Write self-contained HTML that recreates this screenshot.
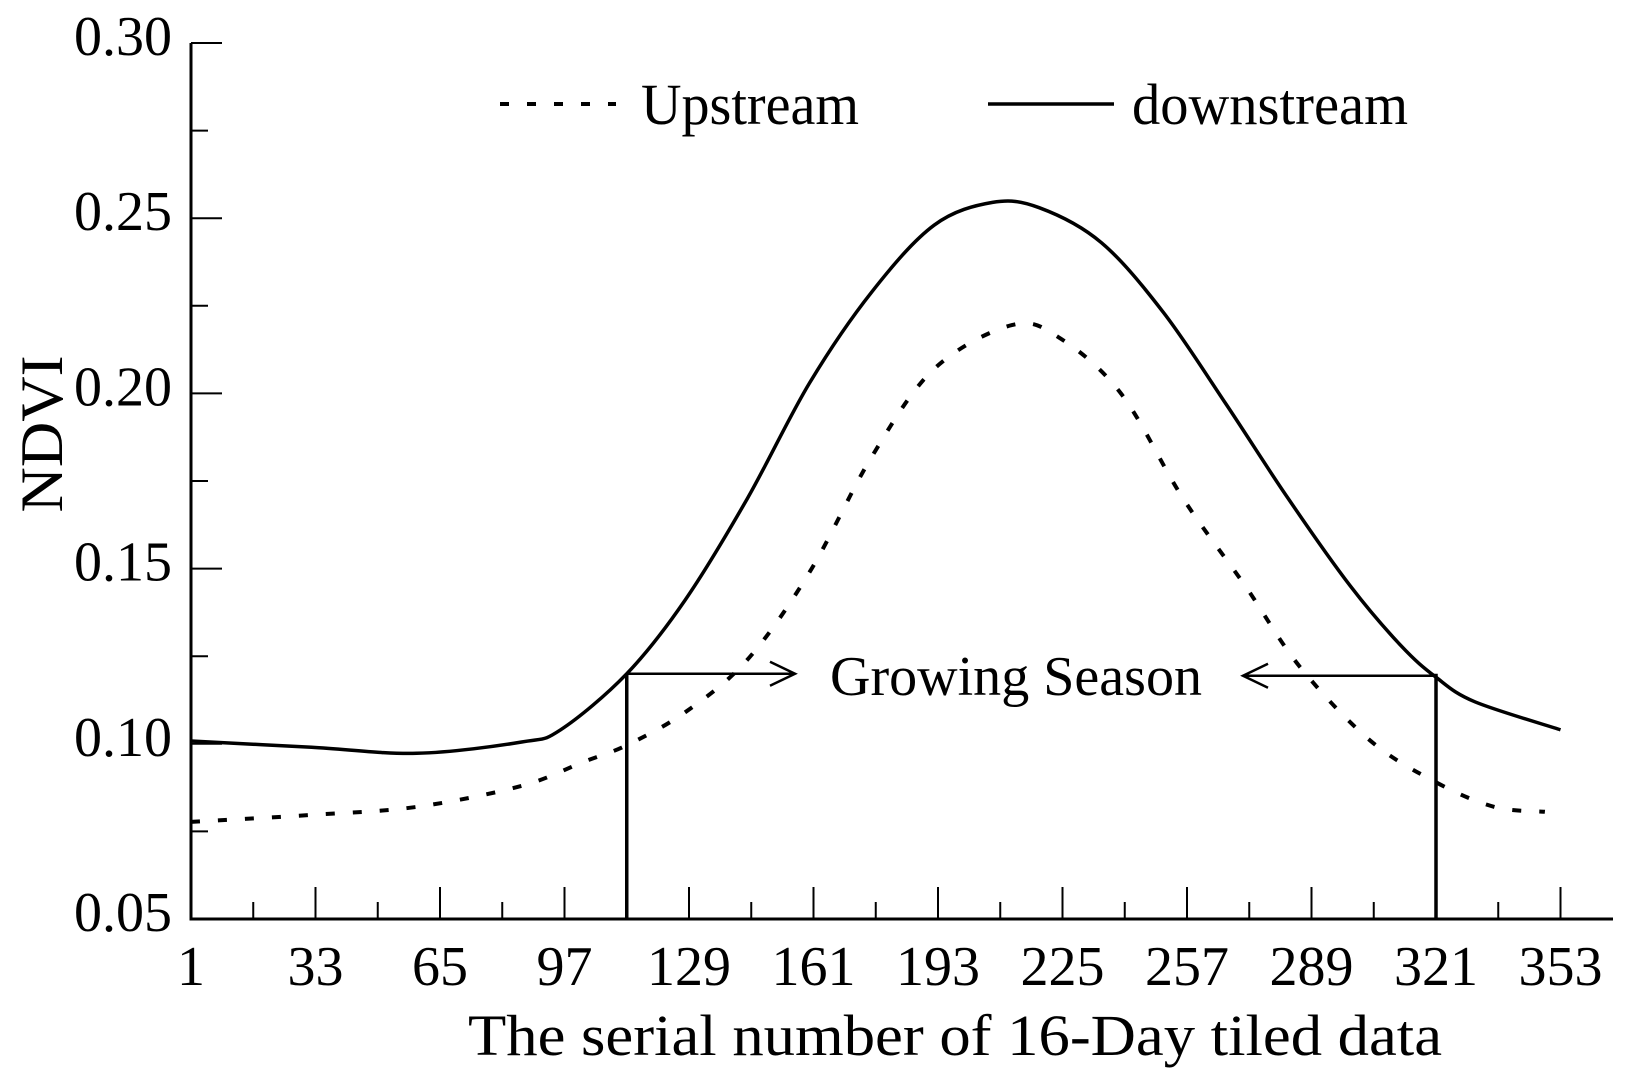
<!DOCTYPE html>
<html><head><meta charset="utf-8"><style>
html,body{margin:0;padding:0;background:#fff;}
svg{display:block;font-family:"Liberation Serif",serif;}
</style></head><body>
<svg id="chart" width="1630" height="1077" viewBox="0 0 1630 1077">
<g id="axes"></g>
<g id="series"></g>
<g>
  <line x1="500" y1="104" x2="616" y2="104" stroke="#000" stroke-width="4" stroke-dasharray="9 18"/>
  <text x="641" y="124" font-size="58" textLength="218" lengthAdjust="spacingAndGlyphs">Upstream</text>
  <line x1="988" y1="104" x2="1114" y2="104" stroke="#000" stroke-width="3.5"/>
  <text x="1132" y="124" font-size="58" textLength="276" lengthAdjust="spacingAndGlyphs">downstream</text>
</g>
<text transform="translate(62,434) rotate(-90)" text-anchor="middle" font-size="60" textLength="157" lengthAdjust="spacingAndGlyphs">NDVI</text>
<text x="468" y="1055" font-size="58" textLength="974" lengthAdjust="spacingAndGlyphs">The serial number of 16-Day tiled data</text>
</svg>
<script>
const xTicks = [1,33,65,97,129,161,193,225,257,289,321,353];
const yTicks = [0.05,0.10,0.15,0.20,0.25,0.30];
const downX = [1,32,59,86,96,113,128,144,160,176,192,207,219,235,251,267,283,299,312,321,331,353];
const downY = [0.1008,0.099,0.0973,0.1005,0.104,0.120,0.141,0.170,0.203,0.229,0.248,0.2545,0.253,0.243,0.223,0.197,0.170,0.145,0.128,0.119,0.112,0.104];
const upX = [1,32,59,86,102,113,128,144,160,176,192,212,224,240,256,272,286,304,321,336,349];
const upY = [0.0777,0.0797,0.082,0.088,0.0949,0.0996,0.109,0.124,0.149,0.182,0.207,0.2195,0.216,0.200,0.170,0.145,0.122,0.101,0.089,0.082,0.0806];
const seasonStart = 113, seasonEnd = 321, seasonLevel = 0.12;

const NS = "http://www.w3.org/2000/svg";
const X0 = 191, XS = 124.5/32, Y0 = 919, YS = 3504;
function sx(v){ return X0 + (v-1)*XS; }
function sy(v){ return Y0 - (v-0.05)*YS; }
function mk(tag, attrs, parent){
  const e = document.createElementNS(NS, tag);
  for (const k in attrs) e.setAttribute(k, attrs[k]);
  parent.appendChild(e); return e;
}
const axes = document.getElementById('axes');
const series = document.getElementById('series');
const svg = document.getElementById('chart');

const ya = mk('line',{x1:X0,y1:Y0+1.5,x2:X0,y2:sy(0.30),stroke:'#000','stroke-width':3},axes);


const xa = mk('line',{x1:X0-1.5,y1:Y0,x2:1613,y2:Y0,stroke:'#000','stroke-width':3},axes);



for (let i=0; i<=10; i++){
  const v = 0.05 + i*0.025;
  const major = i%2===0;
  const t = mk('line',{x1:X0,y1:sy(v),x2:X0+(major?31:17),y2:sy(v),stroke:'#000','stroke-width':2},axes);
  
  
}
yTicks.forEach(v=>{
  const t = mk('text',{x:172,y:sy(v)+12,'text-anchor':'end','font-size':56},axes);
  t.textContent = v.toFixed(2);
  
  
});
for (let v=17; v<=353; v+=16){
  const major = ((v-1)/16)%2===0;
  const t = mk('line',{x1:sx(v),y1:Y0,x2:sx(v),y2:Y0-(major?32:17),stroke:'#000','stroke-width':2},axes);
  
  
}
xTicks.forEach(v=>{
  const t = mk('text',{x:sx(v),y:985,'text-anchor':'middle','font-size':56},axes);
  t.textContent = v;
  
  
});

function path(xs, ys){
  const p = xs.map((x,i)=>[sx(x), sy(ys[i])]);
  let d = 'M'+p[0][0].toFixed(1)+','+p[0][1].toFixed(1);
  for (let i=0;i<p.length-1;i++){
    const p0=p[Math.max(0,i-1)], p1=p[i], p2=p[i+1], p3=p[Math.min(p.length-1,i+2)];
    const c1=[p1[0]+(p2[0]-p0[0])/6, p1[1]+(p2[1]-p0[1])/6];
    const c2=[p2[0]-(p3[0]-p1[0])/6, p2[1]-(p3[1]-p1[1])/6];
    d += ` C${c1[0].toFixed(1)},${c1[1].toFixed(1)} ${c2[0].toFixed(1)},${c2[1].toFixed(1)} ${p2[0].toFixed(1)},${p2[1].toFixed(1)}`;
  }
  return d;
}
const dl = mk('path',{d:path(downX,downY),fill:'none',stroke:'#000','stroke-width':3.5,'stroke-linejoin':'round'},series);


const ul = mk('path',{d:path(upX,upY),fill:'none',stroke:'#000','stroke-width':4,'stroke-dasharray':'9 18'},series);



const g = mk('g',{},svg);


const yl = sy(seasonLevel);
const v1 = mk('line',{x1:sx(seasonStart),y1:Y0,x2:sx(seasonStart),y2:yl,stroke:'#000','stroke-width':3.5},g);


const v2 = mk('line',{x1:sx(seasonEnd),y1:Y0,x2:sx(seasonEnd),y2:yl,stroke:'#000','stroke-width':3.5},g);


const a1 = mk('path',{d:`M${sx(seasonStart)},${yl} H795 M770,${yl-12} L795,${yl} L770,${yl+12}`,fill:'none',stroke:'#000','stroke-width':2.5},g);


const a2 = mk('path',{d:`M${sx(seasonEnd)},${yl+2} H1243 M1268,${yl-10} L1243,${yl+2} L1268,${yl+14}`,fill:'none',stroke:'#000','stroke-width':2.5},g);


const gt = mk('text',{x:830,y:695,'font-size':56,textLength:372,lengthAdjust:'spacingAndGlyphs'},g);
gt.textContent = 'Growing Season';


</script>
</body></html>
